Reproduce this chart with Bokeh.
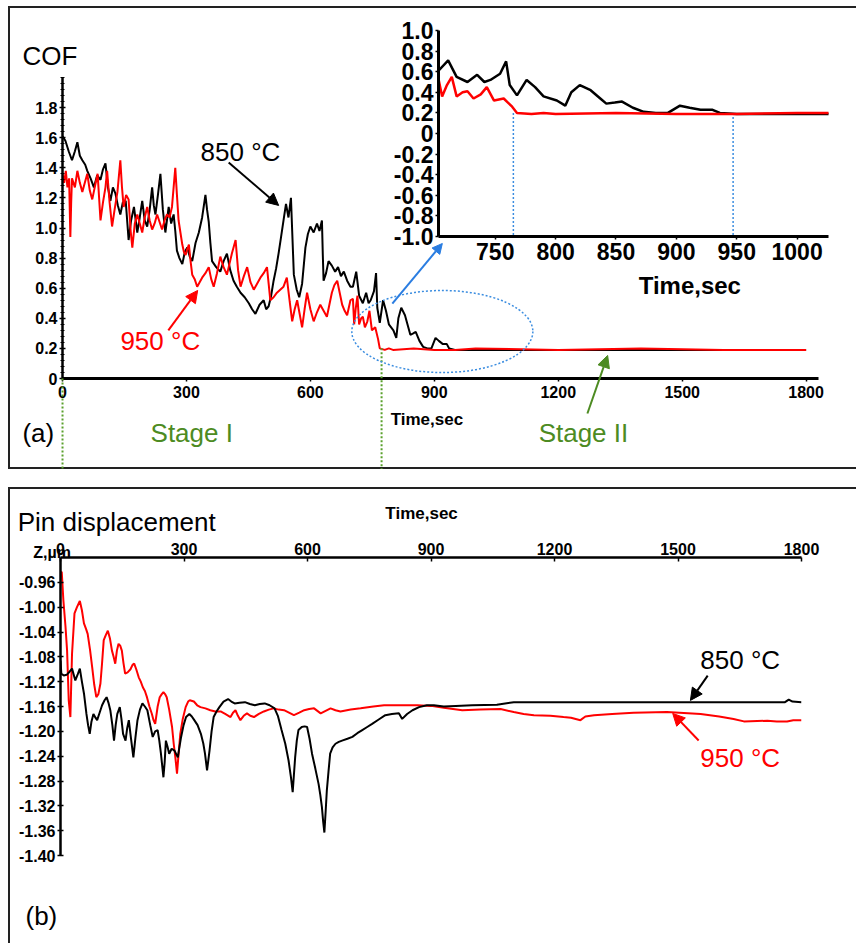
from bokeh.plotting import figure
from bokeh.layouts import column
from bokeh.models import (Range1d, FixedTicker, Label, Arrow, NormalHead,
                          PrintfTickFormatter)
from bokeh.embed import file_html
from bokeh.resources import INLINE

FONT = "Liberation Sans"
GREEN = "#4d8b22"
BLUE = "#3b8de0"

# ---------------- data: coefficient of friction ----------------
cof850_t = [0, 7, 15, 23, 30, 36, 42, 48, 55, 60, 68, 76, 84, 92, 98, 104, 110, 116, 122, 128,
            134, 140, 146, 153, 160, 166, 173, 181, 187, 193, 199, 205, 211, 217, 221, 225, 231,
            237, 243, 249, 257, 263, 269, 273, 277, 283, 290, 296, 302, 308, 314, 322, 330, 338,
            346, 350, 354, 358, 362, 372, 382, 390, 398, 406, 414, 422, 431, 441, 451, 459, 467,
            477, 487, 493, 499, 505, 511, 517, 523, 529, 535, 541, 547, 553, 556, 560, 567, 573,
            580, 588, 594, 600, 608, 616, 622, 628, 630, 632, 638, 644, 652, 660, 667, 674, 681,
            689, 697, 703, 711, 718, 727, 735, 741, 746, 754, 759, 762, 768, 776, 783, 790, 801,
            808, 813, 820, 829, 837, 842, 849, 855, 864, 873, 883, 893, 903, 911, 920, 930, 936,
            950, 1000, 1100, 1200, 1300, 1400, 1500, 1600, 1700, 1800]
cof850_v = [1.61, 1.58, 1.51, 1.45, 1.51, 1.57, 1.48, 1.45, 1.42, 1.38,
            1.33, 1.27, 1.35, 1.32, 1.39, 1.43, 1.27, 1.18, 1.27, 1.23,
            1.15, 1.09, 1.17, 1.18, 0.92, 1.05, 1.14, 0.97, 1.07, 1.18,
            1.05, 1.01, 1.12, 1.27, 1.15, 1.09, 1.22, 1.36, 1.12, 0.97,
            1.14, 1.03, 1.09, 0.98, 0.85, 0.80, 0.76, 0.84, 0.87, 0.81,
            0.78, 0.90, 0.97, 1.07, 1.22, 1.12, 1.04, 0.90, 0.78, 0.74,
            0.71, 0.78, 0.83, 0.72, 0.65, 0.61, 0.57, 0.54, 0.50, 0.46,
            0.43, 0.49, 0.52, 0.46, 0.48, 0.55, 0.65, 0.73, 0.83, 0.94,
            1.05, 1.16, 1.07, 1.20, 0.98, 0.69, 0.59, 0.54, 0.63, 0.87,
            0.96, 1.01, 0.97, 1.03, 0.98, 1.05, 0.83, 0.65, 0.70, 0.78,
            0.75, 0.71, 0.74, 0.68, 0.71, 0.65, 0.61,
            0.61, 0.71, 0.55, 0.50, 0.57, 0.50, 0.52, 0.58, 0.70, 0.47,
            0.37, 0.52, 0.45, 0.36, 0.32, 0.27, 0.40, 0.47, 0.42, 0.34,
            0.29, 0.30, 0.31, 0.25, 0.21, 0.20, 0.20, 0.27, 0.25, 0.23,
            0.23, 0.20, 0.19, 0.19, 0.19, 0.19, 0.19, 0.19, 0.19, 0.19, 0.19, 0.19]

cof950_t = [0, 4, 8, 12, 16, 19, 21, 23, 30, 36, 42, 48, 54, 60, 66, 72, 78, 85, 92, 98, 104,
            108, 114, 120, 126, 133, 140, 144, 148, 154, 160, 165, 169, 175, 181, 187, 193, 199,
            205, 211, 217, 223, 229, 235, 241, 247, 253, 259, 265, 269, 273, 277, 281, 286, 290,
            294, 298, 302, 306, 310, 314, 320, 326, 332, 338, 346, 354, 360, 366, 374, 382, 390,
            398, 404, 410, 415, 419, 425, 431, 439, 447, 455, 463, 471, 479, 487, 495, 499, 503,
            511, 519, 527, 535, 539, 543, 550, 556, 562, 568, 574, 580, 586, 592, 600, 608, 616,
            624, 632, 640, 646, 652, 658, 665, 671, 677, 683, 689, 697, 703, 706, 710, 714, 718,
            723, 727, 732, 738, 743, 749, 757, 764, 768, 780, 790, 800, 850, 900, 950, 1000,
            1200, 1400, 1600, 1800]
cof950_v = [1.36, 1.30, 1.38, 1.27, 1.33, 0.94, 1.17, 1.33, 1.27, 1.38,
            1.30, 1.24, 1.30, 1.36, 1.25, 1.19, 1.27, 1.36, 1.05, 1.17,
            1.27, 1.38, 1.17, 1.01, 1.12, 1.24, 1.45, 1.27, 1.14, 1.22,
            1.19, 0.98, 0.87, 1.03, 1.09, 1.03, 0.97, 1.07, 1.14, 1.05,
            0.99, 1.03, 1.09, 1.04, 0.99, 1.05, 1.09, 1.07, 1.14, 1.27,
            1.40, 1.22, 1.05, 0.96, 0.89, 0.84, 0.82, 0.86, 0.89, 0.78,
            0.69, 0.66, 0.61, 0.64, 0.67, 0.70, 0.74, 0.66, 0.61, 0.70,
            0.81, 0.74, 0.69, 0.76, 0.83, 0.88, 0.92, 0.72, 0.61, 0.68,
            0.74, 0.64, 0.59, 0.63, 0.67, 0.70, 0.74, 0.63, 0.52, 0.54,
            0.57, 0.59, 0.61, 0.64, 0.67, 0.51, 0.38, 0.46, 0.52, 0.43,
            0.34, 0.46, 0.57, 0.46, 0.38, 0.44, 0.49, 0.45, 0.41, 0.49,
            0.57, 0.62, 0.65, 0.57, 0.49, 0.45, 0.42, 0.52,
            0.53, 0.36, 0.47, 0.55, 0.36, 0.40, 0.41, 0.34, 0.38, 0.45,
            0.32, 0.34, 0.26, 0.20, 0.19, 0.20, 0.19, 0.20, 0.19, 0.19,
            0.20, 0.19, 0.20, 0.19, 0.19]

# ---------------- data: pin displacement ----------------
disp950_t = [0, 3, 7, 12, 16, 20, 24, 28, 34, 40, 47, 52, 57, 62, 66, 72, 77, 82, 87, 92, 97,
             101, 105, 110, 115, 120, 125, 129, 133, 137, 141, 145, 149, 153, 157, 163, 170, 175,
             179, 184, 190, 195, 200, 205, 210, 216, 222, 226, 230, 236, 241, 246, 250, 254, 258,
             264, 271, 275, 279, 283, 287, 291, 297, 304, 310, 314, 324, 332, 340, 352, 364, 376,
             389, 400, 413, 419, 425, 431, 437, 445, 453, 461, 470, 482, 494, 506, 518, 530, 543,
             555, 567, 580, 592, 604, 616, 624, 632, 644, 656, 668, 680, 705, 729, 760, 786, 826,
             867, 900, 931, 976, 1020, 1069, 1101, 1125, 1150, 1190, 1222, 1240, 1263, 1275, 1296,
             1340, 1392, 1473, 1555, 1600, 1635, 1660, 1717, 1740, 1765, 1780, 1800]
disp950_v = [-0.945, -0.943, -0.989, -1.030, -1.070, -1.150, -1.177, -1.075, -1.010, -1.000,
             -0.990, -1.005, -1.026, -1.035, -1.043, -1.070, -1.097, -1.125, -1.145, -1.140,
             -1.123, -1.090, -1.053, -1.045, -1.038, -1.050, -1.070, -1.080, -1.091, -1.070,
             -1.059, -1.062, -1.070, -1.090, -1.107, -1.105, -1.100, -1.093, -1.091, -1.100,
             -1.113, -1.120, -1.129, -1.135, -1.145, -1.160, -1.172, -1.182, -1.188, -1.160,
             -1.145, -1.140, -1.137, -1.140, -1.145, -1.165, -1.193, -1.220, -1.242, -1.268,
             -1.235, -1.204, -1.180, -1.161, -1.152, -1.150, -1.152, -1.158, -1.161, -1.163,
             -1.166, -1.168, -1.168, -1.172, -1.177, -1.170, -1.166, -1.175, -1.182, -1.175,
             -1.171, -1.175, -1.177, -1.172, -1.168, -1.165, -1.163, -1.165, -1.166, -1.170,
             -1.174, -1.170, -1.166, -1.164, -1.163, -1.167, -1.171, -1.167, -1.163, -1.166,
             -1.168, -1.165, -1.163, -1.160, -1.158, -1.158, -1.158, -1.159, -1.162, -1.166,
             -1.165, -1.164, -1.169, -1.172, -1.174, -1.175, -1.177, -1.178, -1.182, -1.176,
             -1.174, -1.172, -1.170, -1.169, -1.172, -1.176, -1.180, -1.184, -1.183, -1.184,
             -1.184, -1.182, -1.182]

disp850_t = [0, 2, 8, 15, 22, 28, 36, 42, 47, 52, 57, 63, 67, 71, 75, 80, 85, 89, 95, 101, 107,
             112, 117, 121, 126, 130, 134, 138, 144, 148, 152, 158, 162, 166, 171, 177, 182, 187,
             193, 199, 205, 211, 218, 224, 230, 236, 240, 244, 250, 253, 256, 260, 264, 270, 277,
             285, 289, 293, 299, 305, 313, 319, 325, 333, 341, 347, 351, 356, 362, 367, 372, 379,
             386, 396, 407, 415, 423, 435, 448, 460, 472, 484, 496, 508, 520, 528, 537, 546, 554,
             560, 564, 567, 570, 574, 578, 586, 593, 599, 605, 611, 619, 627, 631, 635, 638, 641,
             644, 647, 651, 655, 661, 668, 676, 684, 697, 709, 721, 733, 745, 757, 773, 789, 805,
             822, 830, 842, 855, 871, 890, 907, 931, 960, 1000, 1060, 1080, 1101, 1200, 1296,
             1400, 1500, 1600, 1700, 1760, 1769, 1778, 1800]
disp850_v = [-1.086, -1.107, -1.110, -1.109, -1.104, -1.099, -1.118, -1.108, -1.099, -1.120,
             -1.139, -1.172, -1.190, -1.204, -1.185, -1.172, -1.178, -1.182, -1.170, -1.158,
             -1.150, -1.145, -1.155, -1.166, -1.190, -1.215, -1.190, -1.172, -1.161, -1.180,
             -1.204, -1.215, -1.195, -1.182, -1.210, -1.242, -1.210, -1.182, -1.165, -1.155,
             -1.160, -1.166, -1.190, -1.209, -1.200, -1.198, -1.215, -1.236, -1.274, -1.250,
             -1.215, -1.225, -1.236, -1.228, -1.231, -1.242, -1.225, -1.209, -1.190, -1.177,
             -1.172, -1.176, -1.182, -1.190, -1.204, -1.220, -1.236, -1.263, -1.231, -1.200,
             -1.177, -1.168, -1.161, -1.152, -1.148, -1.152, -1.155, -1.154, -1.153, -1.156,
             -1.158, -1.156, -1.155, -1.158, -1.163, -1.175, -1.198, -1.220, -1.247, -1.275,
             -1.298, -1.270, -1.242, -1.215, -1.198, -1.193, -1.192, -1.193, -1.212, -1.236,
             -1.260, -1.285, -1.302, -1.322, -1.345, -1.363, -1.330, -1.295, -1.265, -1.236,
             -1.226, -1.220, -1.217, -1.215, -1.212, -1.209, -1.203, -1.198, -1.193, -1.188,
             -1.181, -1.174, -1.172, -1.171, -1.180, -1.172, -1.166, -1.161, -1.158, -1.158,
             -1.160, -1.159, -1.158, -1.157, -1.155, -1.153, -1.153, -1.153, -1.153, -1.153,
             -1.153, -1.153, -1.153, -1.149, -1.152, -1.153]

# ---------------- ticks / markers ----------------
cof_x_ticks = [0, 300, 600, 900, 1200, 1500, 1800]
cof_y_ticks = [0, 0.2, 0.4, 0.6, 0.8, 1.0, 1.2, 1.4, 1.6, 1.8]
inset_x_ticks = [750, 800, 850, 900, 950, 1000]
inset_y_ticks = [-1.0, -0.8, -0.6, -0.4, -0.2, 0, 0.2, 0.4, 0.6, 0.8, 1.0]
disp_x_ticks = [0, 300, 600, 900, 1200, 1500, 1800]
disp_y_ticks = [-0.96, -1.00, -1.04, -1.08, -1.12, -1.16, -1.20, -1.24, -1.28, -1.32, -1.36, -1.40]
stage_t = [0, 772]          # stage boundaries (s)
stage_top = [0, 0.2]        # where the stage marker lines start (COF)
inset_mark_t = [765, 947]   # marked times in the inset (s)


def style_axis(ax, size, lw):
    ax.axis_line_width = lw
    ax.axis_line_color = "black"
    ax.major_tick_line_color = "black"
    ax.minor_tick_line_color = "black"
    ax.major_tick_line_width = 1.5
    ax.minor_tick_line_width = 1
    ax.major_label_text_font = FONT
    ax.major_label_text_font_style = "bold"
    ax.major_label_text_font_size = size
    ax.major_label_text_color = "black"


def make(left, top, w, h, xr, yr, borders=(0, 0, 0, 0), extra_styles=None, **kw):
    """figure placed at page position (left, top); borders = (left, right, top, bottom)"""
    bl, br, bt, bb = borders
    p = figure(width=w, height=h, x_range=Range1d(*xr), y_range=Range1d(*yr),
               output_backend="svg", toolbar_location=None, frame_align=False,
               min_border_left=bl, min_border_right=br, min_border_top=bt,
               min_border_bottom=bb, **kw)
    p.outline_line_color = None
    p.grid.visible = False
    p.background_fill_color = None
    p.border_fill_color = None
    st = {"position": "absolute", "left": f"{left}px", "top": f"{top}px"}
    if extra_styles:
        st.update(extra_styles)
    p.styles = st
    return p


def lab(p, x, y, text, size="26px", color="black", style="normal"):
    p.add_layout(Label(x=x, y=y, text=text, text_font=FONT, text_font_size=size,
                       text_color=color, text_font_style=style,
                       text_align="left", text_baseline="alphabetic"))


def arrow(p, xs, ys, xe, ye, color, size=12):
    p.add_layout(Arrow(end=NormalHead(size=size, fill_color=color, line_color=color),
                       x_start=xs, y_start=ys, x_end=xe, y_end=ye,
                       line_color=color, line_width=2))


# ---------------- panel (a): COF ----------------
p1 = make(8, 6, 848, 463, (0, 1830), (0, 2.0), borders=(54, 38, 71, 91))
xa = p1.xaxis[0]
style_axis(xa, "16px", 3)
xa.ticker = FixedTicker(ticks=cof_x_ticks, minor_ticks=[])
xa.major_tick_in = 0
xa.major_tick_out = 3
xa.major_label_standoff = 4
ya = p1.yaxis[0]
style_axis(ya, "16px", 2.5)
ya.ticker = FixedTicker(ticks=cof_y_ticks, minor_ticks=[i * 0.04 for i in range(51)])
ya.formatter = PrintfTickFormatter(format="%.1f")
ya.major_label_overrides = {0: "0"}
ya.major_tick_in = 3
ya.major_tick_out = 3
ya.minor_tick_in = 2
ya.minor_tick_out = 2
ya.major_label_standoff = 2
p1.line(cof850_t, cof850_v, line_color="black", line_width=2)
p1.line(cof950_t, cof950_v, line_color="#ff0000", line_width=2)

# overlay for panel (a): same time / COF scale, frame spanning the whole panel box
o1 = make(8, 6, 848, 463, (-130.7, 1921.1), (-0.605, 2.472),
          extra_styles={"box-shadow": "inset 2px 2px 0 0 #222, inset 0 -2px 0 0 #222"},
          x_axis_location=None, y_axis_location=None)
o1.segment(x0=stage_t, y0=stage_top, x1=stage_t, y1=[-0.7, -0.7],
           line_color="#5aa02c", line_width=2, line_dash="2 2")
o1.ellipse(x=[919], y=[0.312], width=438, height=0.545, fill_color=None,
           line_color=BLUE, line_width=1.5, line_dash="2 2")
arrow(o1, 798, 0.498, 919, 0.897, "#2a7de1", 10)
arrow(o1, 402, 1.435, 523, 1.150, "black")
arrow(o1, 256, 0.319, 327, 0.585, "#ff0000")
arrow(o1, 1270, -0.233, 1319, 0.153, GREEN)
lab(o1, 334, 1.508, "850 °C")
lab(o1, 140, 0.246, "950 °C", color="#ff0000")
lab(o1, -97, 2.140, "COF")
lab(o1, -97, -0.365, "(a)")
lab(o1, 213, -0.365, "Stage I", color=GREEN)
lab(o1, 1152, -0.365, "Stage II", color=GREEN)
lab(o1, 794, -0.272, "Time,sec", size="17px", style="bold")
lab(o1, 1394, 0.618, "Time,sec", size="24px", style="bold")   # inset x title

# ---------------- inset ----------------
pi = make(380, 14, 460, 290, (703, 1026), (-1.0, 1.0), borders=(58, 12, 16, 68))
ix = pi.xaxis[0]
style_axis(ix, "23px", 3)
ix.ticker = FixedTicker(ticks=inset_x_ticks, minor_ticks=[])
ix.major_tick_in = 0
ix.major_tick_out = 3
ix.major_label_standoff = 3
iy = pi.yaxis[0]
style_axis(iy, "23px", 3)
iy.ticker = FixedTicker(ticks=inset_y_ticks, minor_ticks=[])
iy.formatter = PrintfTickFormatter(format="%.1f")
iy.major_label_overrides = {0: "0"}
iy.major_tick_in = 0
iy.major_tick_out = 3
iy.major_label_standoff = 2
pi.segment(x0=inset_mark_t, y0=[0.2, 0.2], x1=inset_mark_t, y1=[-1.0, -1.0],
           line_color=BLUE, line_width=1.5, line_dash="2 2")
pi.line(cof850_t, cof850_v, line_color="black", line_width=2.5)
pi.line(cof950_t, cof950_v, line_color="#ff0000", line_width=2.5)

# ---------------- panel (b): pin displacement ----------------
p2 = make(8, 487, 848, 456, (0, 1800), (-1.40, -0.92), borders=(52, 55, 70, 88),
          x_axis_location="above")
bx = p2.xaxis[0]
style_axis(bx, "16px", 2.5)
bx.ticker = FixedTicker(ticks=disp_x_ticks, minor_ticks=[])
bx.major_tick_in = 4
bx.major_tick_out = 0
bx.major_label_standoff = 3
by = p2.yaxis[0]
style_axis(by, "16px", 2.5)
by.ticker = FixedTicker(ticks=disp_y_ticks, minor_ticks=[])
by.formatter = PrintfTickFormatter(format="%.2f")
by.major_tick_in = 3
by.major_tick_out = 3
by.major_label_standoff = 2
p2.line(disp950_t, disp950_v, line_color="#ff0000", line_width=2)
p2.line(disp850_t, disp850_v, line_color="black", line_width=2)

# overlay for panel (b)
o2 = make(8, 487, 848, 456, (-126.3, 1933.4), (-1.5418, -0.8069),
          extra_styles={"box-shadow": "inset 2px 2px 0 0 #222"},
          x_axis_location=None, y_axis_location=None)
arrow(o2, 1572, -1.11, 1530, -1.150, "black")
arrow(o2, 1550, -1.2146, 1487, -1.171, "#ff0000")
lab(o2, 1554, -1.0841, "850 °C")
lab(o2, 1554, -1.2436, "950 °C", color="#ff0000")
lab(o2, -104, -0.8617, "Pin displacement")
lab(o2, -66, -0.9116, "Z,µm", size="16px", style="bold")
lab(o2, 789, -0.8488, "Time,sec", size="17px", style="bold")
lab(o2, -85, -1.4967, "(b)")

root = column(p1, p2, pi, o1, o2, width=856, height=943)
root.styles = {"position": "relative", "overflow": "hidden"}

open("out.html", "w").write(file_html(root, INLINE))
